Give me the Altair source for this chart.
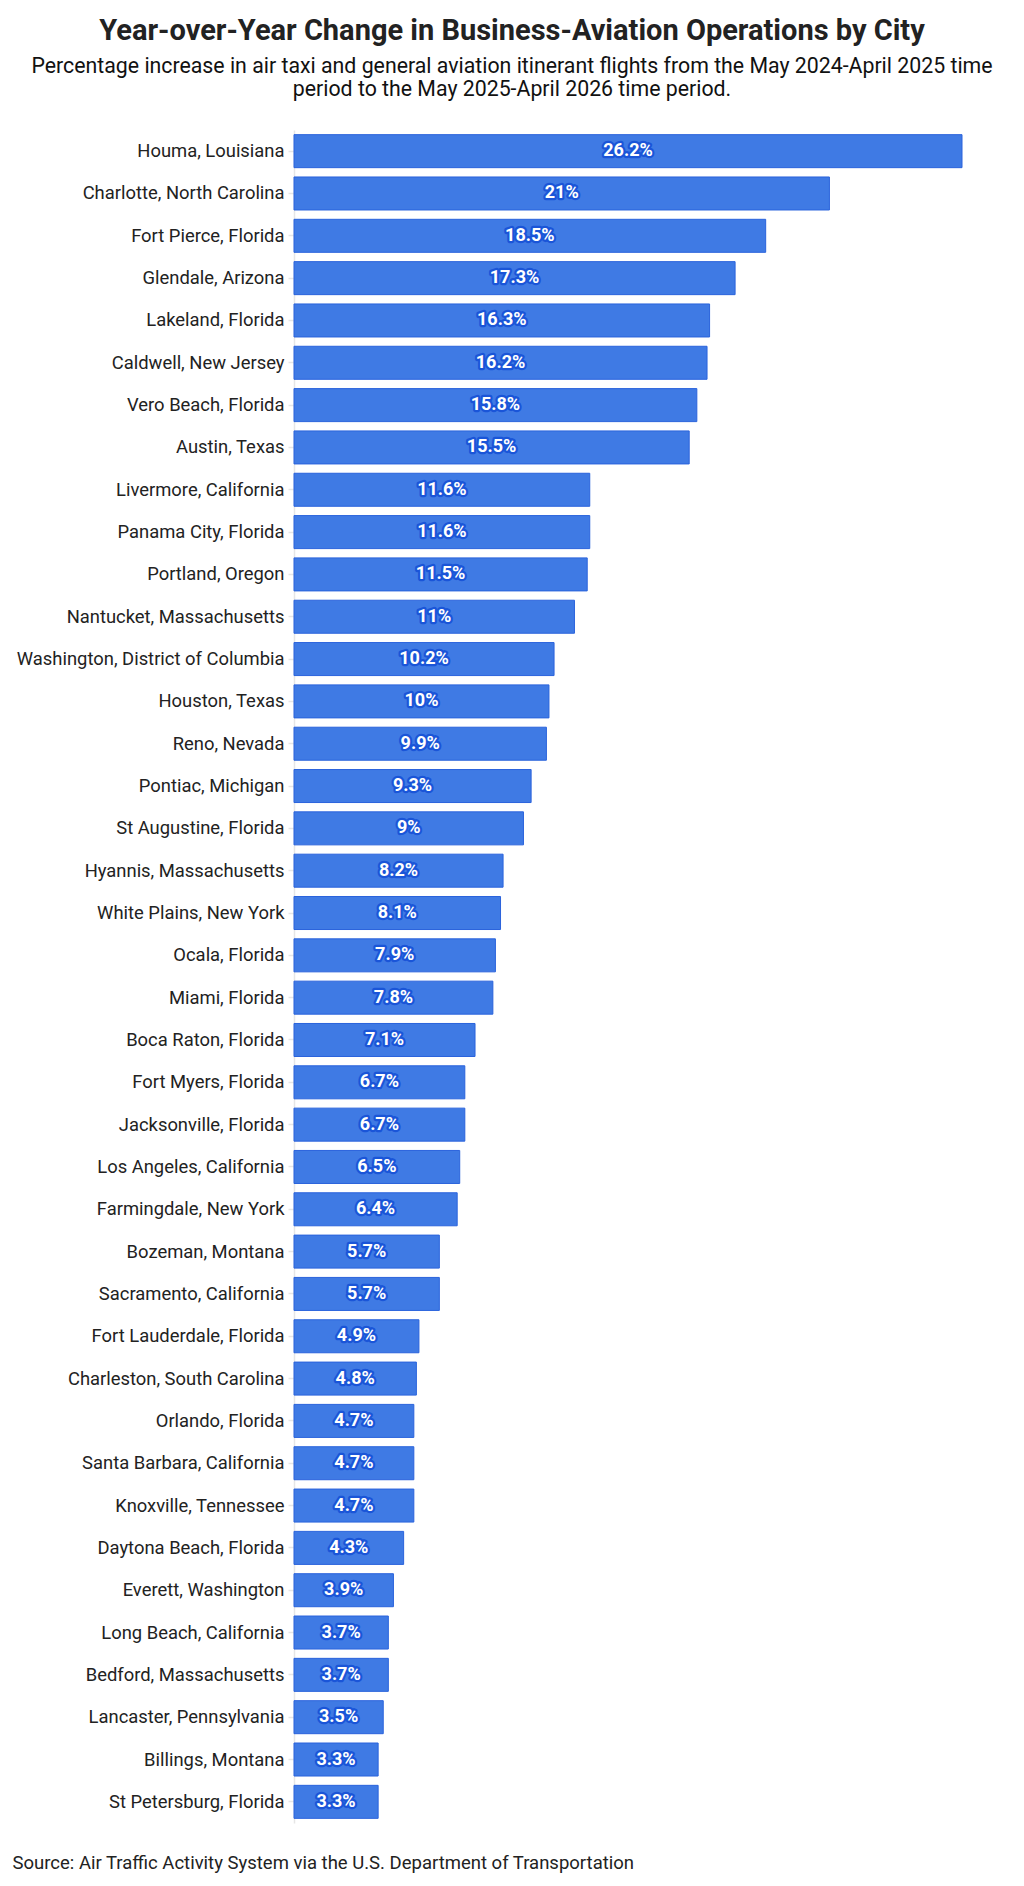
import altair as alt
import pandas as pd

cities = [
    "Houma, Louisiana", "Charlotte, North Carolina", "Fort Pierce, Florida",
    "Glendale, Arizona", "Lakeland, Florida", "Caldwell, New Jersey",
    "Vero Beach, Florida", "Austin, Texas", "Livermore, California",
    "Panama City, Florida", "Portland, Oregon", "Nantucket, Massachusetts",
    "Washington, District of Columbia", "Houston, Texas", "Reno, Nevada",
    "Pontiac, Michigan", "St Augustine, Florida", "Hyannis, Massachusetts",
    "White Plains, New York", "Ocala, Florida", "Miami, Florida",
    "Boca Raton, Florida", "Fort Myers, Florida", "Jacksonville, Florida",
    "Los Angeles, California", "Farmingdale, New York", "Bozeman, Montana",
    "Sacramento, California", "Fort Lauderdale, Florida",
    "Charleston, South Carolina", "Orlando, Florida",
    "Santa Barbara, California", "Knoxville, Tennessee",
    "Daytona Beach, Florida", "Everett, Washington", "Long Beach, California",
    "Bedford, Massachusetts", "Lancaster, Pennsylvania", "Billings, Montana",
    "St Petersburg, Florida",
]
change = [
    26.2, 21, 18.5, 17.3, 16.3, 16.2, 15.8, 15.5, 11.6, 11.6, 11.5, 11,
    10.2, 10, 9.9, 9.3, 9, 8.2, 8.1, 7.9, 7.8, 7.1, 6.7, 6.7, 6.5, 6.4,
    5.7, 5.7, 4.9, 4.8, 4.7, 4.7, 4.7, 4.3, 3.9, 3.7, 3.7, 3.5, 3.3, 3.3,
]

df = pd.DataFrame({"city": cities, "change": change})
df["label"] = df["change"].map(lambda v: f"{v:g}%")

y_enc = alt.Y(
    "city:N",
    sort=cities,
    scale=alt.Scale(paddingInner=0.22, paddingOuter=0.11),
    axis=alt.Axis(
        title=None, labelFontSize=18.4, labelColor="#222222", labelFont="Roboto",
        labelLimit=0, labelPadding=4, tickSize=6, tickColor="#e6e6e6",
        domainColor="#e6e6e6", tickWidth=1.5, domainWidth=1.5,
    ),
)
x_scale = alt.Scale(domain=[0, 26.2], nice=False)

base = alt.Chart(df)

bars = base.mark_bar(color="#3f7ae4", stroke="#2a63dc", strokeWidth=1).encode(
    x=alt.X(
        "change:Q", scale=x_scale,
        axis=alt.Axis(
            labels=False, ticks=False, domain=False, grid=False,
            title="Source: Air Traffic Activity System via the U.S. Department of Transportation",
            titleFont="Roboto", titleFontSize=18.5, titleFontWeight="normal",
            titleColor="#222222", titleAnchor="start", titleAlign="left",
            titleX=-282, titleY=45, titleBaseline="alphabetic",
        ),
    ),
    y=y_enc,
)

mid = base.transform_calculate(half="datum.change / 2")

halo = mid.mark_text(
    font="Roboto", fontSize=18, fontWeight="bold", color="#1a55d8",
    stroke="#1a55d8", strokeWidth=4.5, strokeJoin="round",
).encode(x=alt.X("half:Q", scale=x_scale), y=y_enc, text="label:N")

labels = mid.mark_text(
    font="Roboto", fontSize=18, fontWeight="bold", color="white",
).encode(x=alt.X("half:Q", scale=x_scale), y=y_enc, text="label:N")

chart = (bars + halo + labels).properties(
    width=668,
    height=1693,
    background="white",
    autosize=alt.AutoSizeParams(type="none"),
    padding={"left": 286, "top": 122, "right": 54, "bottom": 55},
    title=alt.Title(
        "Year-over-Year Change in Business-Aviation Operations by City",
        subtitle=[
            "Percentage increase in air taxi and general aviation itinerant flights from the May 2024-April 2025 time",
            "period to the May 2025-April 2026 time period.",
        ],
        font="Roboto", fontSize=29, fontWeight="bold", color="#222222",
        subtitleFont="Roboto", subtitleFontSize=21.3, subtitleColor="#111111",
        subtitleLineHeight=23, subtitlePadding=10,
        anchor="middle", frame="group", dx=-116, offset=30,
    ),
).configure_view(stroke="transparent", strokeWidth=0)

chart.save("out.html", embed_options={"renderer": "svg", "actions": False})
